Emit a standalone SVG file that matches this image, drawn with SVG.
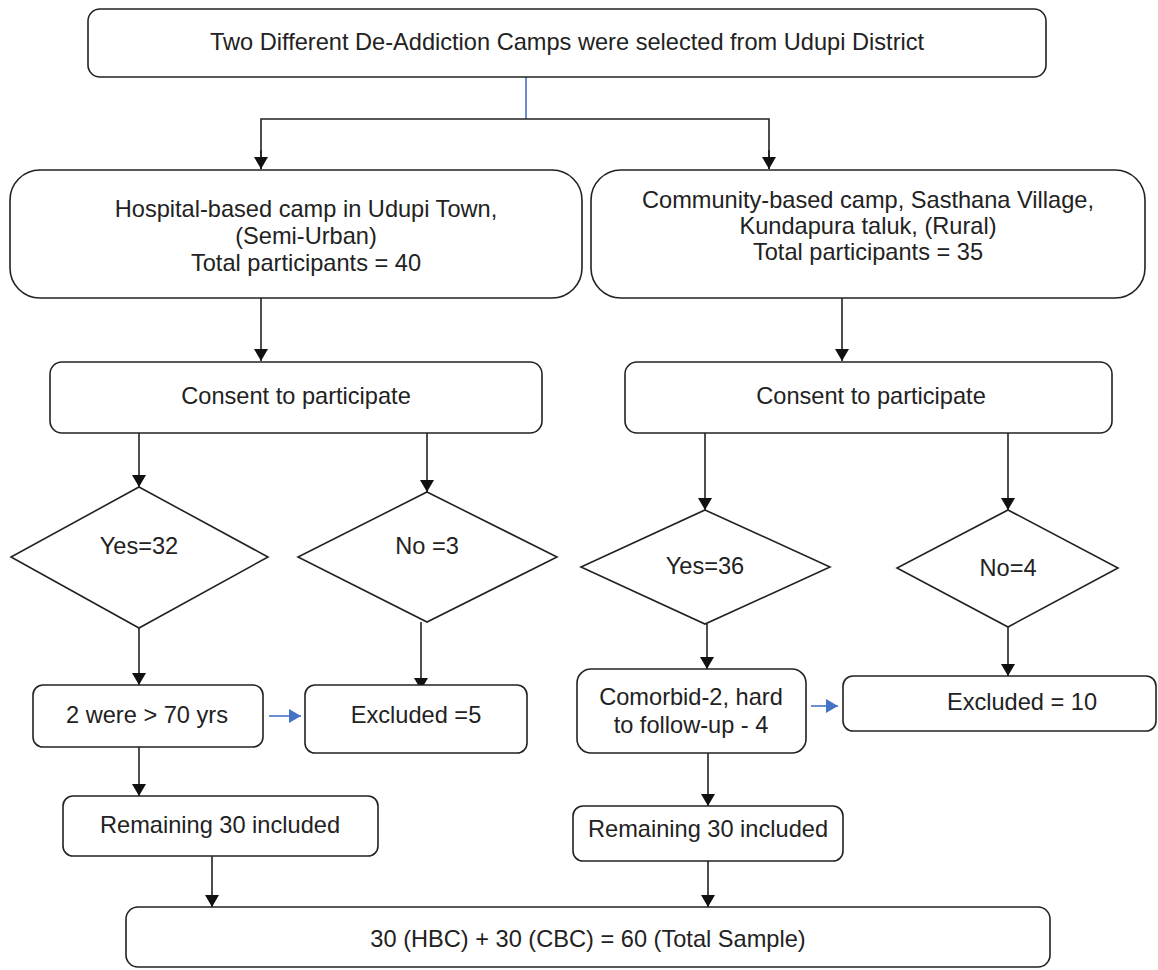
<svg xmlns="http://www.w3.org/2000/svg" width="1158" height="970" viewBox="0 0 1158 970">
<style>
.box{fill:#fff;stroke:#222;stroke-width:1.6}
.t{font-family:"Liberation Sans",Arial,sans-serif;font-size:23.6px;fill:#222;text-anchor:middle;dominant-baseline:central}
.c{fill:none;stroke:#222;stroke-width:1.6}
.b{fill:none;stroke:#4472c4;stroke-width:1.6}
</style>
<defs>
<marker id="ah" viewBox="0 0 12 14" refX="12" refY="7" markerWidth="12" markerHeight="14" markerUnits="userSpaceOnUse" orient="auto"><path d="M0,0 L12,7 L0,14 Z" fill="#111"/></marker>
<marker id="bh" viewBox="0 0 12 14" refX="12" refY="7" markerWidth="12" markerHeight="14" markerUnits="userSpaceOnUse" orient="auto"><path d="M0,0 L12,7 L0,14 Z" fill="#4472c4"/></marker>
</defs>
<rect width="1158" height="970" fill="#fff"/>
<g id="connectors">
<line class="b" x1="526" y1="77" x2="526" y2="119"/>
<polyline class="c" points="261,169 261,119 769,119 769,169"/>
<line class="c" x1="261" y1="150" x2="261" y2="169" marker-end="url(#ah)"/>
<line class="c" x1="769" y1="150" x2="769" y2="169" marker-end="url(#ah)"/>
<line class="c" x1="261" y1="298" x2="261" y2="361" marker-end="url(#ah)"/>
<line class="c" x1="842" y1="298" x2="842" y2="361" marker-end="url(#ah)"/>
<line class="c" x1="139" y1="433" x2="139" y2="487" marker-end="url(#ah)"/>
<line class="c" x1="427" y1="433" x2="427" y2="492" marker-end="url(#ah)"/>
<line class="c" x1="705" y1="433" x2="705" y2="510" marker-end="url(#ah)"/>
<line class="c" x1="1008" y1="433" x2="1008" y2="510" marker-end="url(#ah)"/>
<line class="c" x1="139" y1="628" x2="139" y2="685" marker-end="url(#ah)"/>
<line class="c" x1="421" y1="622" x2="421" y2="690" marker-end="url(#ah)"/>
<line class="c" x1="707" y1="624" x2="707" y2="669" marker-end="url(#ah)"/>
<line class="c" x1="1008" y1="627" x2="1008" y2="676" marker-end="url(#ah)"/>
<line class="b" x1="269" y1="716" x2="301" y2="716" marker-end="url(#bh)"/>
<line class="b" x1="811" y1="706" x2="838" y2="706" marker-end="url(#bh)"/>
<line class="c" x1="139" y1="747" x2="139" y2="796" marker-end="url(#ah)"/>
<line class="c" x1="708" y1="753" x2="708" y2="806" marker-end="url(#ah)"/>
<line class="c" x1="212" y1="856" x2="212" y2="907" marker-end="url(#ah)"/>
<line class="c" x1="708" y1="861" x2="708" y2="907" marker-end="url(#ah)"/>
</g>
<g id="n-top"><rect class="box" x="88" y="9" width="958" height="68" rx="12"/><text class="t" x="567" y="42">Two Different De-Addiction Camps were selected from Udupi District</text></g>
<g id="n-hbc"><rect class="box" x="10" y="170" width="572" height="128" rx="30"/><text class="t" x="306" y="209">Hospital-based camp in Udupi Town,</text><text class="t" x="306" y="236">(Semi-Urban)</text><text class="t" x="306" y="263">Total participants = 40</text></g>
<g id="n-cbc"><rect class="box" x="591" y="170" width="554" height="128" rx="30"/><text class="t" x="868" y="200">Community-based camp, Sasthana Village,</text><text class="t" x="868" y="226">Kundapura taluk, (Rural)</text><text class="t" x="868" y="252">Total participants = 35</text></g>
<g id="n-consent-l"><rect class="box" x="50" y="362" width="492" height="71" rx="12"/><text class="t" x="296" y="396">Consent to participate</text></g>
<g id="n-consent-r"><rect class="box" x="625" y="362" width="487" height="71" rx="12"/><text class="t" x="871" y="396">Consent to participate</text></g>
<g id="n-yes32"><polygon class="box" points="139,487 268,557 139,628 11,557"/><text class="t" x="139" y="546">Yes=32</text></g>
<g id="n-no3"><polygon class="box" points="427,492 557,557 427,622 298,557"/><text class="t" x="427" y="546">No =3</text></g>
<g id="n-yes36"><polygon class="box" points="705,510 830,567 705,624 581,567"/><text class="t" x="705" y="566">Yes=36</text></g>
<g id="n-no4"><polygon class="box" points="1008,510 1118,568 1008,627 897,568"/><text class="t" x="1008" y="568">No=4</text></g>
<g id="n-age"><rect class="box" x="33" y="685" width="230" height="62" rx="10"/><text class="t" x="147" y="715">2 were &gt; 70 yrs</text></g>
<g id="n-exc5"><rect class="box" x="305" y="685" width="222" height="68" rx="10"/><text class="t" x="416" y="715">Excluded =5</text></g>
<g id="n-comorbid"><rect class="box" x="577" y="669" width="229" height="84" rx="14"/><text class="t" x="691" y="697">Comorbid-2, hard</text><text class="t" x="691" y="725">to follow-up - 4</text></g>
<g id="n-exc10"><rect class="box" x="843" y="676" width="313" height="55" rx="10"/><text class="t" x="1022" y="702">Excluded = 10</text></g>
<g id="n-rem-l"><rect class="box" x="63" y="796" width="315" height="60" rx="10"/><text class="t" x="220" y="825">Remaining 30 included</text></g>
<g id="n-rem-r"><rect class="box" x="573" y="806" width="270" height="55" rx="10"/><text class="t" x="708" y="829">Remaining 30 included</text></g>
<g id="n-total"><rect class="box" x="126" y="907" width="924" height="60" rx="12"/><text class="t" x="588" y="939">30 (HBC) + 30 (CBC) = 60 (Total Sample)</text></g>
</svg>
